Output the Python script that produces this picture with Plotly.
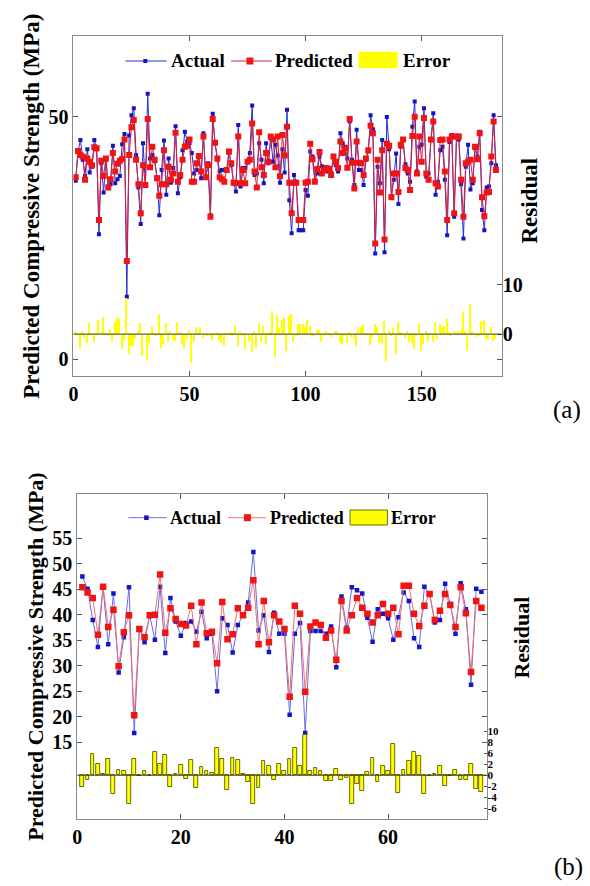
import plotly.graph_objects as go

# ---------------- data : panel (a) ----------------
act_a = [36.8, 42.8, 45.2, 41.1, 37.8, 43.3, 38.5, 39.7, 45.2, 43.3,
         25.8, 40.4, 34.4, 41.1, 35.6, 36.1, 44.0, 36.3, 37.1, 37.8,
         44.3, 46.4, 12.9, 46.1, 50.3, 51.7, 42.1, 35.4, 27.9, 44.5,
         35.9, 54.7, 41.4, 42.1, 40.8, 37.5, 29.7, 39.0, 45.1, 33.9,
         41.4, 36.4, 39.4, 48.0, 34.2, 37.5, 43.1, 46.9, 44.9, 44.5,
         42.5, 38.3, 39.0, 41.8, 37.3, 46.6, 37.6, 40.4, 29.7, 50.6,
         44.5, 41.1, 38.7, 39.0, 39.0, 38.9, 42.5, 40.0, 36.3, 34.6,
         48.3, 35.6, 39.4, 39.4, 40.7, 42.5, 52.3, 38.0, 38.3, 44.5,
         41.1, 36.3, 44.5, 40.4, 45.5, 40.7, 44.2, 42.0, 36.4, 43.3,
         38.5, 51.4, 32.8, 26.0, 38.0, 36.6, 26.6, 26.6, 26.6, 34.9,
         33.7, 42.8, 41.8, 36.9, 38.3, 41.8, 39.8, 39.4, 38.7, 39.0,
         38.5,
         41.9, 40.0, 38.7, 46.6, 44.5, 43.8, 41.4, 49.0, 41.1, 35.9,
         47.3, 39.0, 39.0, 35.9, 41.1, 42.8, 50.3, 47.4, 21.8, 39.7,
         36.3, 45.2, 22.1, 49.9, 43.3, 33.6, 37.0, 42.4, 32.0, 43.8,
         45.2, 40.2, 38.3, 36.6, 47.9, 53.1, 38.7, 43.8, 44.2, 51.7,
         37.6, 38.3, 45.2, 50.7, 33.9, 36.6, 43.1, 43.8, 37.0, 25.6,
         44.8, 46.2, 29.4, 45.7, 45.3, 36.1, 24.9, 39.7, 44.2, 35.0,
         36.3, 43.5, 41.8, 46.9, 30.8, 26.6, 35.4, 35.6, 40.4, 50.3, 40.0]

pred_a = [37.5, 42.9, 42.1, 41.8, 37.0, 41.4, 40.7, 40.0, 43.7, 43.5,
          28.7, 40.9, 37.8, 41.4, 35.4, 37.1, 42.5, 38.7, 40.3, 40.9,
          41.3, 45.3, 20.3, 42.1, 47.8, 49.3, 41.1, 36.1, 30.1, 40.0,
          35.9, 49.5, 39.6, 43.8, 41.1, 37.3, 33.7, 36.1, 43.1, 36.1,
          39.7, 37.0, 38.3, 46.7, 36.6, 38.0, 41.1, 43.8, 44.0, 45.3,
          36.6, 36.6, 40.4, 41.9, 38.7, 45.9, 37.5, 40.0, 29.4, 49.5,
          44.6, 41.4, 37.5, 37.1, 36.6, 39.0, 42.8, 40.4, 36.4, 36.3,
          45.9, 36.3, 39.0, 36.3, 40.7, 41.1, 48.6, 38.7, 35.4, 46.8,
          39.6, 38.0, 42.5, 40.7, 45.9, 45.3, 39.6, 45.9, 37.7, 46.2,
          42.0, 47.9, 36.4, 30.1, 36.4, 36.4, 28.7, 28.7, 28.7, 36.4,
          36.6, 44.4, 41.2, 36.6, 39.2, 42.7, 38.3, 39.0, 39.4, 39.2,
          38.0,
          41.8, 40.7, 39.4, 44.9, 42.5, 43.5, 39.5, 49.5, 40.5, 35.2,
          44.9, 40.5, 40.4, 38.0, 41.4, 43.1, 48.1, 46.6, 23.9, 41.1,
          34.4, 43.1, 24.7, 44.4, 44.0, 33.4, 38.3, 38.3, 34.5, 44.2,
          45.3, 39.4, 39.0, 34.9, 46.0, 50.0, 38.3, 45.9, 40.7, 49.7,
          38.3, 37.0, 45.3, 49.0, 36.3, 35.6, 45.2, 45.3, 38.7, 28.7,
          45.3, 45.9, 30.1, 45.9, 45.9, 37.0, 29.4, 40.4, 40.7, 41.1,
          37.0, 43.8, 41.2, 46.6, 33.4, 29.5, 34.4, 34.5, 41.8, 49.0, 39.0]

err_a = [0.7, 0.1, -3.1, 0.7, -0.8, -1.9, 2.2, 0.3, -1.5, 0.2,
         2.9, 0.5, 3.4, 0.3, -0.2, 1.0, -1.5, 2.4, 3.2, 3.1,
         -3.0, -1.1, 7.4, -4.0, -2.5, -2.4, -1.0, 0.7, 2.2, -4.5,
         0.0, -5.2, -1.8, 1.7, 0.3, -0.2, 4.0, -2.9, -2.0, 2.2,
         -1.7, 0.6, -1.1, -1.3, 2.4, 0.5, -2.0, -3.1, -0.9, 0.8,
         -5.9, -1.7, 1.4, 0.1, 1.4, -0.7, -0.1, -0.4, -0.3, -1.1,
         0.1, 0.3, -1.2, -1.9, -2.4, 0.1, 0.3, 0.4, 0.1, 1.7,
         -2.4, 0.7, -0.4, -3.1, 0.0, -1.4, -3.7, 0.7, -2.9, 2.3,
         -1.5, 1.7, -2.0, 0.3, 0.4, 4.6, -4.6, 3.9, 1.3, 2.9,
         3.5, -3.5, 3.6, 4.1, -1.6, -0.2, 2.1, 2.1, 2.1, 1.5,
         2.9, 1.6, -0.6, -0.3, 0.9, 0.9, -1.5, -0.4, 0.7, 0.2,
         -0.5,
         -0.1, 0.7, 0.7, -1.7, -2.0, -0.3, -1.9, 0.5, -0.6, -0.7,
         -2.4, 1.5, 1.4, 2.1, 0.3, 0.3, -2.2, -0.8, 2.1, 1.4,
         -1.9, -2.1, 2.6, -5.5, 0.7, -0.2, 1.3, -4.1, 2.5, 0.4,
         0.1, -0.8, 0.7, -1.7, -1.9, -3.1, -0.4, 2.1, -3.5, -2.0,
         0.7, -1.3, 0.1, -1.7, 2.4, -1.0, 2.1, 1.5, 1.7, 3.1,
         0.5, -0.3, 0.7, 0.2, 0.6, 0.9, 4.5, 0.7, -3.5, 6.1,
         0.7, 0.3, -0.6, -0.3, 2.6, 2.9, -1.0, -1.1, 1.4, -1.3, -1.0]

idx_a = list(range(1, len(act_a) + 1))

# ---------------- data : panel (b) ----------------
act_b = [47.5, 45.1, 39.0, 33.7, 45.4, 34.2, 44.2, 28.7, 35.6, 45.4,
         16.8, 37.2, 34.6, 39.9, 35.1, 45.5, 32.5, 43.3, 38.7, 35.9,
         38.4, 38.7, 36.7, 40.6, 35.4, 36.3, 25.0, 39.3, 38.0, 32.6,
         38.0, 39.9, 42.4, 52.3, 36.9, 39.9, 32.7, 40.4, 36.3, 36.3,
         20.4, 36.3, 38.4, 16.8, 36.8, 36.8, 36.8, 36.3, 37.7, 29.7,
         43.6, 37.5, 45.4, 44.8, 44.2, 39.4, 34.7, 41.1, 40.2, 39.3,
         35.1, 39.5, 44.4, 42.7, 35.4, 33.7, 45.5, 44.1, 38.5, 39.0,
         46.1, 42.1, 36.3, 46.2, 41.1, 26.3, 45.1, 44.5]

pred_b = [45.4, 44.4, 43.3, 36.1, 45.5, 37.6, 41.0, 29.9, 36.6, 39.9,
          20.3, 37.2, 35.6, 39.9, 40.0, 47.9, 36.5, 41.3, 39.2, 38.2,
          37.9, 41.8, 34.2, 42.4, 36.4, 36.7, 30.5, 42.5, 35.2, 36.2,
          41.3, 39.9, 41.4, 46.8, 34.2, 42.7, 34.6, 39.9, 38.7, 37.2,
          23.9, 41.8, 40.2, 24.9, 37.7, 38.5, 38.0, 35.5, 36.9, 31.2,
          42.7, 36.9, 39.9, 43.3, 41.4, 40.2, 38.5, 39.9, 42.1, 40.2,
          41.4, 36.2, 45.7, 45.7, 40.2, 37.8, 41.8, 44.1, 39.0, 40.8,
          44.1, 41.9, 37.6, 45.4, 40.3, 28.8, 42.7, 41.4]

err_b = [-2.2, -0.9, 3.8, 2.1, 0.2, 3.0, -3.4, 0.9, 0.8, -5.2,
         3.0, -0.2, 0.7, -0.1, 4.3, 2.1, 3.6, -2.2, 0.3, 1.9,
         -0.6, 2.7, -2.4, 1.5, 0.7, 0.4, 5.0, 3.0, -2.7, 3.2,
         2.8, 0.2, -1.2, -5.2, -2.4, 2.5, 1.6, -0.8, 2.0, 0.7,
         3.0, 5.0, 1.6, 7.3, 0.7, 1.4, 0.8, -1.0, -1.0, 1.2,
         -0.8, -0.5, -5.3, -1.6, -2.8, 0.5, 3.2, -1.2, 1.6, 0.7,
         5.6, -3.3, 1.0, 2.5, 4.3, 3.5, -3.5, -0.1, 0.3, 1.6,
         -1.9, -0.1, 1.0, -0.8, -0.8, 2.0, -2.5, -3.0]

idx_b = list(range(1, len(act_b) + 1))

xticks_a = [0, 50, 100, 150]
yticks_a = [0, 50]
rticks_a = [0, 10]
xticks_b = [0, 20, 40, 60]
yticks_b = [15, 20, 25, 30, 35, 40, 45, 50, 55]
rticks_b = [-6, -4, -2, 0, 2, 4, 6, 8]
rtext_b = ['-6', '-4', '-2', '0', '2', '6', '8', '10']

# ---------------- layout helpers ----------------
W, H = 590, 886
FONT = "Liberation Serif, 'Times New Roman', Times, serif"


def px(x):
    return x / W


def py(y):
    return 1 - y / H


BOX_A = (69, 501, 36, 376)      # left, right, top, bottom (pixels)
BOX_B = (72.8, 485.7, 494, 818.7)

fig = go.Figure()

# panel (a)
fig.add_trace(go.Bar(x=idx_a, y=err_a, xaxis='x', yaxis='y2', width=0.6,
                     marker=dict(color='#ffff00', line=dict(width=0)),
                     showlegend=False))
fig.add_trace(go.Scatter(x=idx_a, y=act_a, xaxis='x', yaxis='y', mode='lines+markers',
                         line=dict(color='#2a2ad8', width=1),
                         marker=dict(symbol='square', size=4, color='#1414c0'),
                         showlegend=False))
fig.add_trace(go.Scatter(x=idx_a, y=pred_a, xaxis='x', yaxis='y', mode='lines+markers',
                         line=dict(color='#d8203a', width=1),
                         marker=dict(symbol='square', size=6, color='#f01414'),
                         showlegend=False))

# panel (b)
fig.add_trace(go.Bar(x=idx_b, y=err_b, xaxis='x2', yaxis='y4', width=0.72,
                     marker=dict(color='#ffff00', line=dict(width=1, color='#6e6e00')),
                     showlegend=False))
fig.add_trace(go.Scatter(x=idx_b, y=act_b, xaxis='x2', yaxis='y3', mode='lines+markers',
                         line=dict(color='#6a6ae8', width=1),
                         marker=dict(symbol='square', size=4.5, color='#1414c8'),
                         showlegend=False))
fig.add_trace(go.Scatter(x=idx_b, y=pred_b, xaxis='x2', yaxis='y3', mode='lines+markers',
                         line=dict(color='#f07070', width=1),
                         marker=dict(symbol='square', size=6.5, color='#f01414'),
                         showlegend=False))

tick_font = dict(family=FONT, size=20, color='black', weight='bold')
common = dict(ticks='inside', ticklen=5, tickcolor='#555', showgrid=False, zeroline=False,
              tickfont=tick_font)

fig.update_layout(
    width=W, height=H, margin=dict(l=0, r=0, t=0, b=0),
    paper_bgcolor='white', plot_bgcolor='white', showlegend=False,
    font=dict(family=FONT),
    bargap=0,
    xaxis=dict(domain=[px(BOX_A[0]), px(BOX_A[1])], anchor='y', range=[0, 184.5],
               tickvals=xticks_a, showline=True, linecolor='#8a8a8a', linewidth=1,
               mirror='ticks', **common),
    yaxis=dict(domain=[py(BOX_A[3]), py(BOX_A[2])], anchor='x', range=[-3.4, 66.6],
               tickvals=yticks_a, showline=True, linecolor='#8a8a8a', linewidth=1,
               mirror='ticks', **common),
    yaxis2=dict(overlaying='y', side='right', anchor='x', range=[-8.5, 60.5],
                tickvals=rticks_a, showline=False, **common),
    xaxis2=dict(domain=[px(BOX_B[0]), px(BOX_B[1])], anchor='y3', range=[0, 79],
                tickvals=xticks_b, showline=True, linecolor='#8a8a8a', linewidth=1,
                mirror='ticks', **common),
    yaxis3=dict(domain=[py(BOX_B[3]), py(BOX_B[2])], anchor='x2', range=[0, 63.7],
                tickvals=yticks_b, showline=True, linecolor='#8a8a8a', linewidth=1,
                mirror='ticks', **common),
    yaxis4=dict(overlaying='y3', side='right', anchor='x2', range=[-7.9, 51.1],
                tickvals=rticks_b, ticktext=rtext_b, showline=False,
                ticks='inside', ticklen=3, tickcolor='#555', showgrid=False, zeroline=False,
                tickfont=dict(family=FONT, size=11, color='black', weight='bold')),
)

shapes = []
# zero baselines of the residual bars
shapes.append(dict(type='line', xref='x domain', yref='y2', x0=0, x1=1, y0=0, y1=0,
                   line=dict(color='#3a3a20', width=1)))
shapes.append(dict(type='line', xref='x2 domain', yref='y4', x0=0, x1=1, y0=0, y1=0,
                   line=dict(color='#3a3a00', width=1)))

annotations = []


def legend(yc, blue_line, blue_mk, blue_hs, act_x, red_line, red_mk, red_hs, pred_x,
           rect, rect_border, err_x, fsize, blue_col, red_col):
    shapes.append(dict(type='line', xref='paper', yref='paper',
                       x0=px(blue_line[0]), x1=px(blue_line[1]), y0=py(yc), y1=py(yc),
                       line=dict(color=blue_col, width=1)))
    shapes.append(dict(type='rect', xref='paper', yref='paper',
                       x0=px(blue_mk - blue_hs), x1=px(blue_mk + blue_hs),
                       y0=py(yc + blue_hs), y1=py(yc - blue_hs),
                       line=dict(width=0), fillcolor='#1414c0'))
    shapes.append(dict(type='line', xref='paper', yref='paper',
                       x0=px(red_line[0]), x1=px(red_line[1]), y0=py(yc), y1=py(yc),
                       line=dict(color=red_col, width=1)))
    shapes.append(dict(type='rect', xref='paper', yref='paper',
                       x0=px(red_mk - red_hs), x1=px(red_mk + red_hs),
                       y0=py(yc + red_hs), y1=py(yc - red_hs),
                       line=dict(width=0), fillcolor='#f01414'))
    shapes.append(dict(type='rect', xref='paper', yref='paper',
                       x0=px(rect[0]), x1=px(rect[1]), y0=py(rect[3]), y1=py(rect[2]),
                       line=dict(width=1 if rect_border else 0, color=rect_border or '#ffff00'),
                       fillcolor='#ffff00'))
    for txt, xx in (("Actual", act_x), ("Predicted", pred_x), ("Error", err_x)):
        annotations.append(dict(text=txt, xref='paper', yref='paper', x=px(xx), y=py(yc),
                                xanchor='left', yanchor='middle', showarrow=False,
                                font=dict(family=FONT, size=fsize, color='black', weight='bold')))


legend(61, (121.5, 163), 141.5, 2, 165, (228, 269), 247, 3.5, 270,
       (356.6, 396, 51.7, 68.3), None, 399, 19, '#2a2ad8', '#d8203a')
legend(517.7, (124.5, 163), 142.6, 2.3, 164, (225, 263), 244.5, 3.5, 265,
       (348, 385.7, 510, 525), '#6e6e00', 387.5, 18, '#6a6ae8', '#f07070')

# axis titles and panel labels
for txt, x, y, s in (("Predicted Compressive Strength (MPa)", 27, 206, 23),
                     ("Predicted Compressive Strength (MPa)", 30, 657, 22)):
    annotations.append(dict(text=txt, xref='paper', yref='paper', x=px(x), y=py(y),
                            xanchor='center', yanchor='middle', textangle=-90, showarrow=False,
                            font=dict(family=FONT, size=s, color='black', weight='bold')))
for txt, x, y, s in (("Residual", 528, 201, 23), ("Residual", 520, 638, 22)):
    annotations.append(dict(text=txt, xref='paper', yref='paper', x=px(x), y=py(y),
                            xanchor='center', yanchor='middle', textangle=-90, showarrow=False,
                            font=dict(family=FONT, size=s, color='black', weight='bold')))
for txt, x, y in (("(a)", 567, 410), ("(b)", 568, 867)):
    annotations.append(dict(text=txt, xref='paper', yref='paper', x=px(x), y=py(y),
                            xanchor='center', yanchor='middle', showarrow=False,
                            font=dict(family=FONT, size=25, color='black')))

fig.update_layout(shapes=shapes, annotations=annotations)
fig.write_html("out.html")
